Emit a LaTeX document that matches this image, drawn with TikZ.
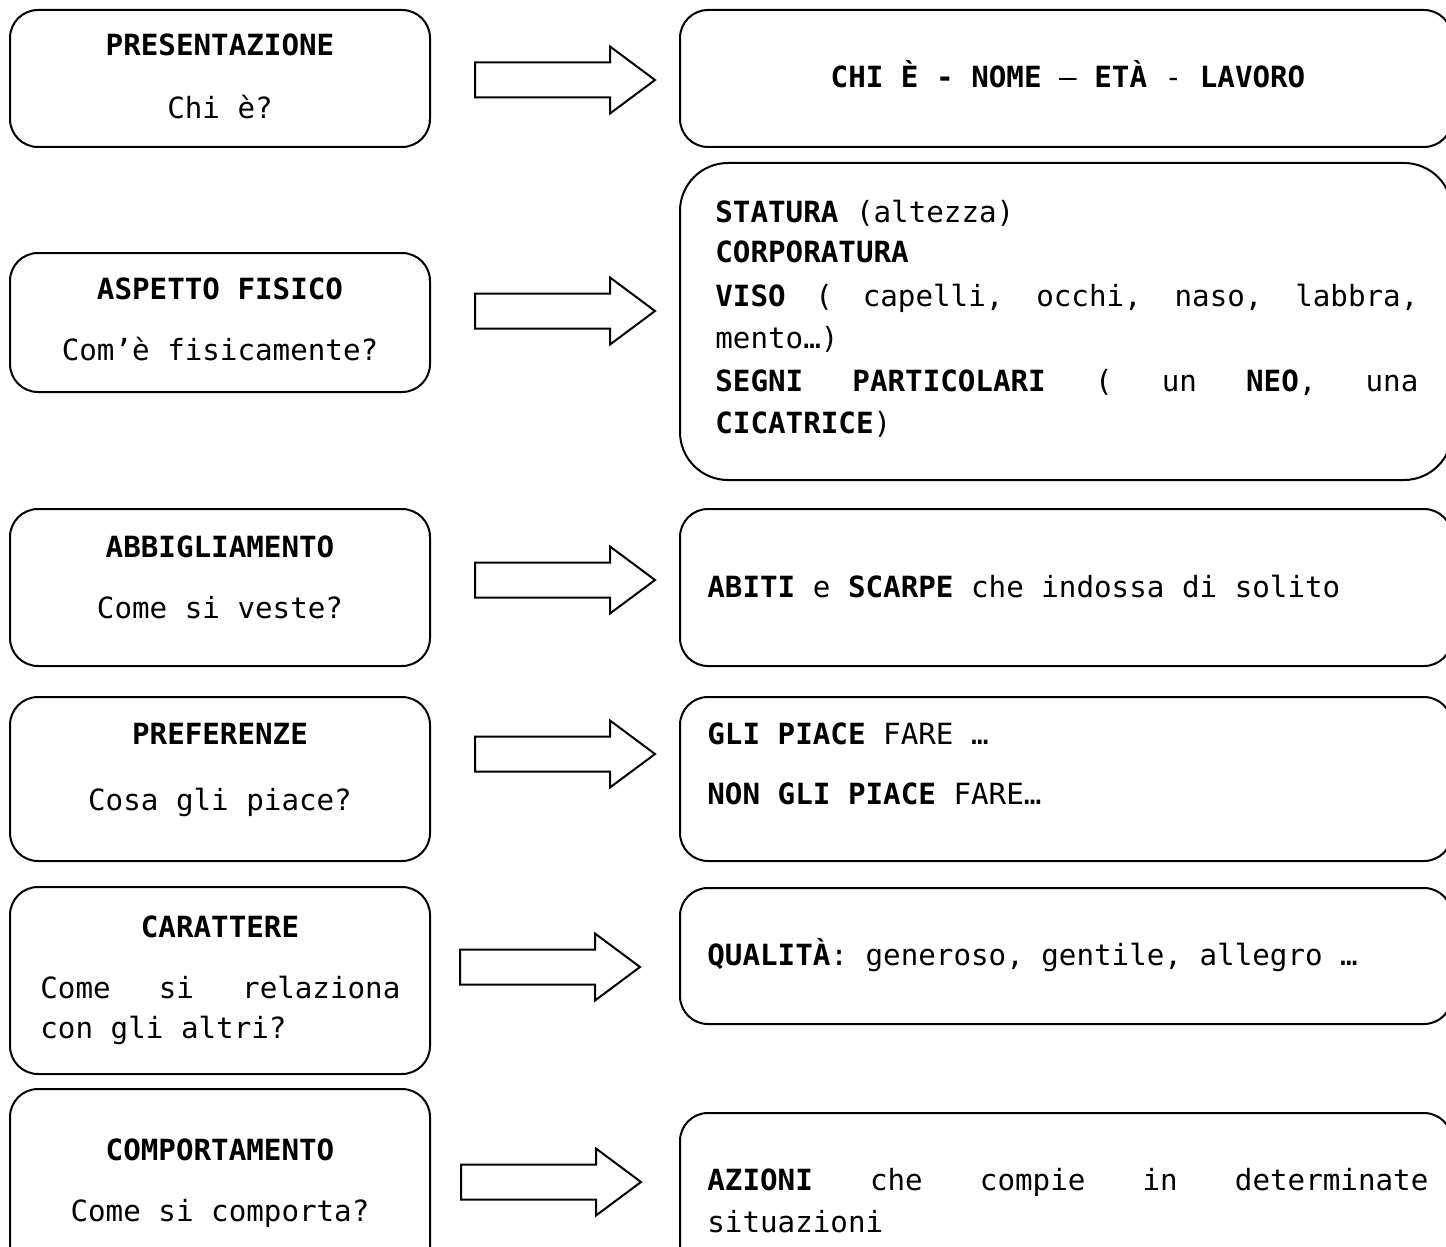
\documentclass[tikz,border=0pt]{standalone}
\usepackage{fontspec}
\setmainfont{DejaVu Sans Mono}
\usetikzlibrary{calc}
\def\fatarrow(#1,#2){\draw[line width=1pt,line join=miter] (#1,#2) ++(0,-17.5) -- ++(135,0) -- ++(0,-16) -- ++(45,33.5) -- ++(-45,33.5) -- ++(0,-16) -- ++(-135,0) -- cycle}
\newcommand\jline[2]{\hbox to #1{\spaceskip=.602em plus 1fil\relax #2}}

\begin{document}
\begin{tikzpicture}[x=0.5pt,y=-0.5pt,
	box/.style={line width=1pt,rounded corners=14pt},
	txt/.style={inner sep=0pt,yshift=-2.5pt,font=\fontsize{14.6pt}{21pt}\selectfont},
	head/.style={txt,font=\fontsize{14.6pt}{21pt}\selectfont\bfseries,anchor=mid},
	sub/.style={txt,anchor=mid},
	line/.style={txt,anchor=mid west}]
		%%%%% START %%%%%
		\useasboundingbox (0,0) rectangle (1446,1247);
		\clip (0,0) rectangle (1446,1247);
		
		\draw[box] (10,10) rectangle (430,147);
		\draw[box] (10,253) rectangle (430,392);
		\draw[box] (10,509) rectangle (430,666);
		\draw[box] (10,697) rectangle (430,861);
		\draw[box] (10,887) rectangle (430,1074);
		\draw[box] (10,1089) rectangle (430,1300);
		
		\draw[box] (680,10) rectangle (1452,147);
		\draw[box,rounded corners=24pt] (680,163) rectangle (1452,480);
		\draw[box] (680,509) rectangle (1452,666);
		\draw[box] (680,697) rectangle (1452,861);
		\draw[box] (680,888) rectangle (1452,1024);
		\draw[box] (680,1113) rectangle (1452,1300);
		
		\fatarrow(475,80);
		\fatarrow(475,311);
		\fatarrow(475,580);
		\fatarrow(475,754);
		\fatarrow(460,967);
		\fatarrow(461,1182);
		
		\node[head] (presT) at (220,45) {PRESENTAZIONE};
		\node[sub] (presS) at (220,108) {Chi è?};
		\node[head] (fisT) at (220,289) {ASPETTO FISICO};
		\node[sub] (fisS) at (220,350) {Com’è fisicamente?};
		\node[head] (abbT) at (220,547) {ABBIGLIAMENTO};
		\node[sub] (abbS) at (220,608) {Come si veste?};
		\node[head] (prefT) at (220,734) {PREFERENZE};
		\node[sub] (prefS) at (220,800) {Cosa gli piace?};
		\node[head] (carT) at (220,927) {CARATTERE};
		\node[line] (carS) at (40,988) {\jline{180pt}{Come si relaziona}};
		\node[line] (carS2) at (40,1028) {con gli altri?};
		\node[head] (compT) at (220,1150) {COMPORTAMENTO};
		\node[sub] (compS) at (220,1211) {Come si comporta?};
		
		\node[sub] (chi) at (1068,77) {\textbf{CHI È - NOME} – \textbf{ETÀ} - \textbf{LAVORO}};
		\node[line] (stat) at (715,212) {\textbf{STATURA} (altezza)};
		\node[line] (corp) at (715,252) {\textbf{CORPORATURA}};
		\node[line] (viso) at (715,296) {\jline{351.5pt}{\textbf{VISO} ( capelli, occhi, naso, labbra,}};
		\node[line] (mento) at (715,338) {mento…)};
		\node[line] (segni) at (715,381) {\jline{351.5pt}{\textbf{SEGNI PARTICOLARI} ( un \textbf{NEO}, una}};
		\node[line] (cica) at (715,423) {\textbf{CICATRICE})};
		\node[line] (abiti) at (707,587) {\textbf{ABITI} e \textbf{SCARPE} che indossa di solito};
		\node[line] (piace) at (707,734) {\textbf{GLI PIACE} FARE …};
		\node[line] (nonpiace) at (707,794) {\textbf{NON GLI PIACE} FARE…};
		\node[line] (qual) at (707,955) {\textbf{QUALITÀ}: generoso, gentile, allegro …};
		\node[line] (azioni) at (707,1180) {\jline{360.5pt}{\textbf{AZIONI} che compie in determinate}};
		\node[line] (situaz) at (707,1222) {situazioni};
		%%%%% END %%%%%
\end{tikzpicture}
\end{document}
